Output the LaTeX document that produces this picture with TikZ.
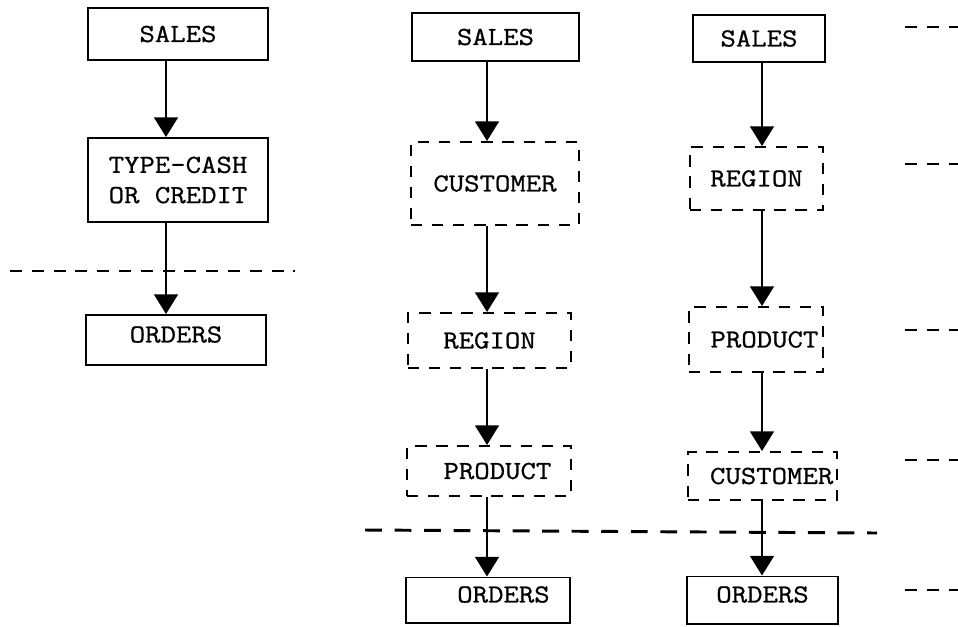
\documentclass[tikz,border=0pt]{standalone}
\usepackage{fontspec}
\newfontfamily\typewriter{Latin Modern Mono}[FakeStretch=1.15, FakeBold=0.8]
\usetikzlibrary{arrows.meta}

\begin{document}
\begin{tikzpicture}[x=0.025cm, y=-0.025cm, line width=1.4pt,
  font=\typewriter\fontsize{18.5}{21.5}\selectfont,
  solidbox/.style={draw, rectangle, inner sep=0pt, align=center},
  dashbox/.style={solidbox, dash pattern=on 8pt off 7pt},
  flow/.style={-{Triangle[width=17pt,length=14pt]}},
  level/.style={line width=2.1pt, dash pattern=on 8.5pt off 7pt}]
  \useasboundingbox (0,0) rectangle (958,626);
  % first plan
  \node[solidbox, minimum width=4.5cm, minimum height=1.3cm] (s1) at (178,34) {SALES};
  \node[solidbox, minimum width=4.5cm, minimum height=2.1cm] (t1) at (178,180) {TYPE-CASH\\OR CREDIT};
  \node[solidbox, minimum width=4.5cm, minimum height=1.25cm, text depth=8pt] (o1) at (176,340) {ORDERS};
  % second plan
  \node[solidbox, minimum width=4.175cm, minimum height=1.2cm] (s2) at (495.5,37) {SALES};
  \node[dashbox, minimum width=4.2cm, minimum height=2.075cm] (c2) at (495,183.5) {CUSTOMER};
  \node[dashbox, minimum width=4.075cm, minimum height=1.375cm] (r2) at (489.5,340.5) {REGION};
  \node[dashbox, minimum width=4.1cm, minimum height=1.25cm] (p2) at (489,471) {\hspace*{12pt}PRODUCT};
  \node[solidbox, minimum width=4.1cm, minimum height=1.125cm, text depth=8pt] (o2) at (488,600) {\hspace*{22pt}ORDERS};
  % third plan
  \node[solidbox, minimum width=3.3cm, minimum height=1.175cm] (s3) at (759,38.5) {SALES};
  \node[dashbox, minimum width=3.325cm, minimum height=1.575cm] (r3) at (756.5,178.5) {REGION};
  \node[dashbox, minimum width=3.35cm, minimum height=1.625cm] (p3) at (756,339.5) {\hspace*{12pt}PRODUCT};
  \node[dashbox, minimum width=3.725cm, minimum height=1.2cm] (c3) at (762.5,476) {\hspace*{13pt}CUSTOMER};
  \node[solidbox, minimum width=3.775cm, minimum height=1.175cm, text depth=8pt] (o3) at (762.5,600) {ORDERS};
  % arrow columns
  \coordinate (ax1) at (166,0);
  \coordinate (ax2) at (487,0);
  \coordinate (ax3) at (762,0);
  \foreach \from/\to/\col in {s1/t1/ax1, t1/o1/ax1, s2/c2/ax2, c2/r2/ax2, r2/p2/ax2,
      p2/o2/ax2, s3/r3/ax3, r3/p3/ax3, p3/c3/ax3, c3/o3/ax3}
    \draw[flow] (\from.south -| \col) -- (\to.north -| \col);
  % cut lines
  \draw[level] (10,271) -- (295,271);
  \draw[level, dash pattern=on 12pt off 9pt] (365,530) -- (877,533);
  \foreach \y in {27,164,330,460,590}
    \draw[level] (905,\y) -- (958,\y);
\end{tikzpicture}
\end{document}
